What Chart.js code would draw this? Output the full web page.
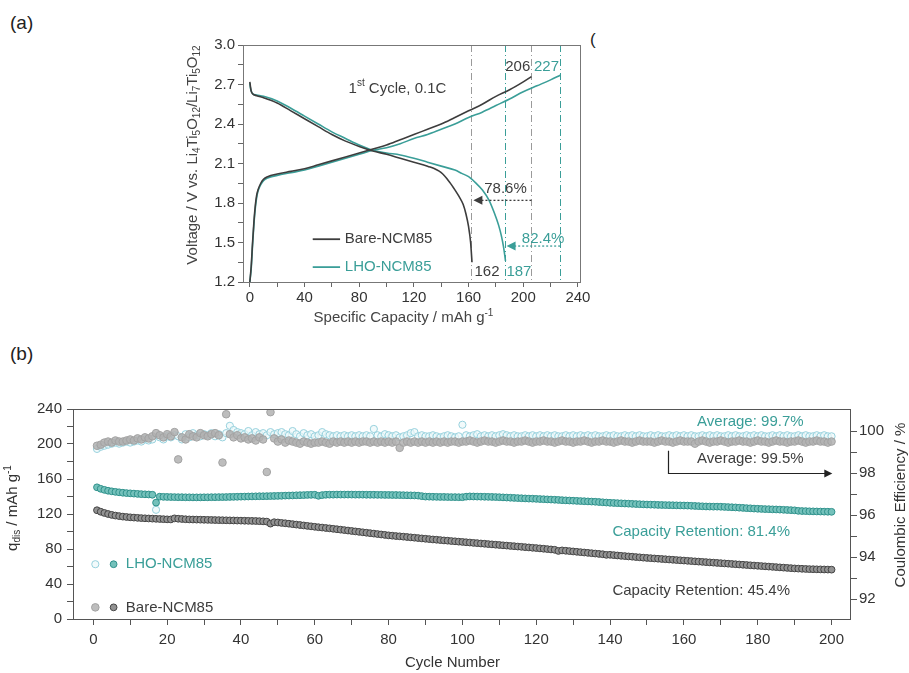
<!DOCTYPE html>
<html>
<head>
<meta charset="utf-8">
<script src="https://cdn.jsdelivr.net/npm/chart.js@4.4.1/dist/chart.umd.min.js"></script>
<style>
  body { margin: 0; background: #fff; width: 909px; height: 673px; position: relative; overflow: hidden;
         font-family: "Liberation Sans", Arial, sans-serif; }
  .plabel { position: absolute; font-size: 19px; color: #222; }
  canvas { position: absolute; }
</style>
</head>
<body>
<div class="plabel" style="left:10px;top:12px">(a)</div>
<div class="plabel" style="left:10px;top:343px">(b)</div>
<div class="plabel" style="left:590px;top:30px;font-size:17px">(</div>
<canvas id="chartA" width="460" height="310" style="left:160px;top:30px"></canvas>
<canvas id="chartB" width="909" height="278" style="left:0;top:395px"></canvas>
<script>
/**
 * 1st cycle voltage profiles (a) + cycling stability (b)
 */
const FONT = '"Liberation Sans", Arial, sans-serif';
const DARK = '#3d3d3d';
const TEAL = '#3a9e98';
const TEXT = '#333';
const AXIS = '#666';

// ---- (a) 1st cycle, 0.1C ----
const bareChargeCap = [0, 1, 2, 3, 4, 5, 6, 8, 10, 13, 20, 30, 40, 50, 60, 70, 80, 90, 100, 110, 120, 130, 140, 150, 160, 170, 180, 190, 200, 206];
const bareChargeV = [1.20, 1.32, 1.50, 1.66, 1.78, 1.86, 1.90, 1.95, 1.98, 2.00, 2.02, 2.04, 2.06, 2.09, 2.12, 2.15, 2.18, 2.21, 2.24, 2.28, 2.32, 2.36, 2.40, 2.45, 2.50, 2.55, 2.61, 2.66, 2.72, 2.76];
const lhoChargeCap = [0, 1, 2, 3, 4, 5, 6, 8, 10, 13, 20, 30, 40, 50, 60, 70, 80, 90, 100, 110, 120, 130, 140, 150, 160, 170, 180, 190, 200, 210, 220, 227];
const lhoChargeV = [1.20, 1.30, 1.48, 1.64, 1.76, 1.84, 1.89, 1.94, 1.97, 1.99, 2.01, 2.03, 2.05, 2.08, 2.11, 2.14, 2.17, 2.20, 2.22, 2.25, 2.29, 2.32, 2.36, 2.40, 2.45, 2.49, 2.54, 2.59, 2.645, 2.69, 2.735, 2.77];
const bareDischargeCap = [0, 0.5, 1, 2, 5, 10, 20, 30, 40, 50, 60, 70, 80, 90, 100, 110, 120, 130, 140, 146, 150, 153, 156, 158, 160, 161.5, 162.5];
const bareDischargeV = [2.72, 2.68, 2.65, 2.63, 2.615, 2.60, 2.56, 2.50, 2.44, 2.38, 2.32, 2.27, 2.23, 2.195, 2.17, 2.14, 2.11, 2.08, 2.03, 1.96, 1.90, 1.85, 1.79, 1.72, 1.62, 1.50, 1.35];
const lhoDischargeCap = [0, 0.5, 1, 2, 5, 10, 20, 30, 40, 50, 60, 70, 80, 90, 100, 110, 120, 130, 140, 150, 155, 160, 165, 170, 175, 179, 182, 184, 185.5, 186.5, 187];
const lhoDischargeV = [2.71, 2.67, 2.65, 2.63, 2.62, 2.61, 2.575, 2.52, 2.46, 2.40, 2.34, 2.29, 2.24, 2.20, 2.18, 2.165, 2.14, 2.11, 2.08, 2.05, 2.025, 2.0, 1.955, 1.90, 1.82, 1.72, 1.63, 1.55, 1.47, 1.40, 1.36];

const capMajorA = [0, 40, 80, 120, 160, 200, 240];
const capMinorA = [20, 60, 100, 140, 180, 220];
const voltMajorA = [1.2, 1.5, 1.8, 2.1, 2.4, 2.7, 3.0];
const voltMinorA = [1.35, 1.65, 1.95, 2.25, 2.55, 2.85];

const endCaps = [162, 187, 206, 227];          // dash-dot markers
const endCapColors = ['#9a9a9a', TEAL, '#9a9a9a', TEAL];

// ---- (b) cycling at higher rate ----
const cycles = Array.from({ length: 200 }, (_, i) => i + 1);

const lhoCapacity = [
  150.5, 148.8, 147.6, 146.6, 145.9, 145.3, 144.8, 144.3, 143.9, 143.6,
  143.3, 143.0, 142.7, 142.5, 142.3, 142.0, 133.0, 139.8, 139.6, 139.5,
  139.4, 139.3, 139.2, 139.2, 139.1, 139.1, 139.0, 139.0, 139.0, 139.1,
  139.1, 139.2, 139.2, 139.3, 139.3, 139.4, 139.5, 139.6, 139.7, 139.8,
  139.9, 140.0, 140.1, 140.2, 140.3, 140.3, 140.4, 140.5, 140.6, 140.7,
  140.8, 141.0, 141.1, 141.2, 141.4, 141.5, 141.6, 141.8, 141.9, 142.0,
  140.8, 141.6, 142.0, 142.1, 142.1, 142.2, 142.2, 142.2, 142.2, 142.2,
  142.1, 142.1, 142.1, 142.0, 142.0, 142.0, 141.9, 141.9, 141.8, 141.8,
  141.7, 141.7, 141.6, 141.5, 141.4, 141.3, 141.2, 141.0, 140.4, 139.9,
  139.8, 139.7, 139.6, 139.5, 139.5, 139.4, 139.3, 139.3, 139.2, 139.2,
  139.8, 140.1, 140.0, 139.9, 139.8, 139.7, 139.6, 139.5, 139.4, 139.2,
  139.0, 138.8, 138.6, 138.4, 138.2, 138.0, 137.8, 137.6, 137.5, 137.3,
  137.1, 136.9, 136.7, 136.5, 136.3, 136.1, 135.8, 135.6, 135.4, 135.2,
  135.0, 134.8, 134.6, 134.4, 134.2, 134.0, 133.7, 133.4, 133.1, 132.8,
  132.6, 132.4, 132.2, 132.0, 131.8, 131.6, 131.4, 131.2, 131.0, 130.8,
  130.7, 130.6, 130.4, 130.3, 130.2, 130.1, 130.0, 129.9, 129.8, 129.7,
  129.6, 129.4, 129.2, 129.0, 128.8, 128.6, 128.5, 128.4, 128.4, 128.3,
  128.1, 127.9, 127.7, 127.5, 127.2, 127.0, 126.7, 126.5, 126.2, 126.0,
  125.8, 125.6, 125.5, 125.3, 125.2, 125.0, 124.8, 124.6, 124.4, 124.2,
  123.6, 123.4, 123.3, 123.1, 123.0, 122.9, 122.8, 122.7, 122.6, 122.5
];

const bareCapacity = [
  124.3, 122.6, 121.2, 120.0, 119.0, 118.2, 117.6, 117.0, 116.6, 116.2,
  115.9, 115.6, 115.3, 115.1, 114.9, 114.7, 114.5, 114.3, 114.1, 113.9,
  113.8, 115.0, 114.6, 114.3, 114.0, 113.8, 113.7, 113.6, 113.5, 113.4,
  113.3, 113.2, 113.1, 113.0, 112.9, 112.8, 112.7, 112.6, 112.5, 112.4,
  112.3, 112.2, 112.1, 112.0, 111.8, 111.6, 111.3, 109.0, 110.6, 110.3,
  109.8, 109.4, 108.9, 108.4, 107.9, 107.4, 106.9, 106.4, 105.9, 105.4,
  104.9, 104.5, 104.0, 103.6, 103.1, 102.6, 102.1, 101.6, 101.1, 100.6,
  100.1, 99.6, 99.1, 98.6, 98.1, 97.6, 97.1, 96.6, 96.1, 95.6,
  95.2, 94.8, 94.5, 94.1, 93.7, 93.3, 92.9, 92.5, 92.1, 91.7,
  91.3, 90.9, 90.6, 90.2, 89.8, 89.5, 89.1, 88.8, 88.4, 88.1,
  87.7, 87.4, 87.0, 86.7, 86.3, 86.0, 85.6, 85.3, 84.9, 84.6,
  84.2, 83.9, 83.5, 83.2, 82.8, 82.5, 82.1, 81.8, 81.4, 81.1,
  80.7, 80.3, 79.9, 79.5, 79.1, 77.8, 78.4, 78.0, 77.6, 77.2,
  76.8, 76.4, 76.0, 75.6, 75.2, 74.8, 74.4, 74.0, 73.3, 73.4,
  73.0, 72.6, 72.2, 71.9, 71.5, 71.2, 70.8, 70.5, 70.1, 69.8,
  69.5, 69.2, 68.9, 68.6, 68.3, 68.0, 67.7, 67.4, 67.1, 66.8,
  66.5, 66.2, 65.9, 65.6, 65.3, 65.0, 64.7, 64.4, 64.1, 63.8,
  63.5, 63.2, 62.9, 62.6, 62.3, 62.0, 61.7, 61.4, 61.1, 60.8,
  60.5, 60.2, 59.9, 59.6, 59.3, 59.0, 58.7, 58.4, 58.1, 57.8,
  57.6, 57.4, 57.2, 57.0, 56.9, 56.8, 56.7, 56.6, 56.5, 56.4
];

const lhoCE = [
  99.15, 99.25, 99.3, 99.35, 99.4, 99.45, 99.4, 99.45, 99.5, 99.45,
  99.5, 99.55, 99.5, 99.6, 99.55, 99.6, 96.25, 99.7, 99.6, 99.75,
  99.7, 99.8, 99.75, 99.6, 99.85, 99.7, 99.9, 99.8, 99.75, 99.85,
  99.8, 99.9, 99.75, 99.85, 99.7, 99.9, 100.25, 100.05, 99.95, 99.9,
  99.85, 100.0, 99.8, 99.95, 99.85, 99.9, 99.8, 99.95, 99.85, 99.9,
  99.95, 99.85, 99.8, 100.0, 99.85, 99.75, 99.9, 99.8, 99.85, 99.75,
  99.8, 99.95, 99.85, 99.8, 99.75, 99.8, 99.75, 99.8, 99.75, 99.8,
  99.75, 99.8, 99.75, 99.8, 99.75, 100.1, 99.8, 99.75, 99.85, 99.8,
  99.75, 99.8, 99.7, 99.75, 99.8, 99.9, 99.95, 99.75, 99.8, 99.75,
  99.75, 99.8, 99.75, 99.7, 99.75, 99.8, 99.75, 99.7, 99.75, 100.3,
  99.8, 99.75, 99.8, 99.85, 99.75, 99.8, 99.75, 99.8, 99.75, 99.8,
  99.85, 99.8, 99.75, 99.8, 99.75, 99.75, 99.8, 99.75, 99.8, 99.75,
  99.8, 99.75, 99.8, 99.75, 99.8, 99.75, 99.75, 99.8, 99.75, 99.8,
  99.75, 99.8, 99.75, 99.8, 99.75, 99.8, 99.75, 99.75, 99.8, 99.75,
  99.8, 99.75, 99.75, 99.8, 99.75, 99.8, 99.75, 99.8, 99.75, 99.75,
  99.8, 99.75, 99.8, 99.75, 99.75, 99.8, 99.75, 99.8, 99.75, 99.8,
  99.75, 99.8, 99.75, 99.75, 99.8, 99.75, 99.8, 99.75, 99.8, 99.75,
  99.75, 99.8, 99.75, 99.8, 99.75, 99.75, 99.8, 99.75, 99.8, 99.75,
  99.8, 99.75, 99.75, 99.8, 99.75, 99.8, 99.75, 99.8, 99.75, 99.75,
  99.8, 99.75, 99.8, 99.75, 99.75, 99.8, 99.75, 99.8, 99.75, 99.75
];

const bareCE = [
  99.3, 99.35, 99.45, 99.5, 99.45, 99.55, 99.5, 99.5, 99.55, 99.6,
  99.55, 99.65, 99.6, 99.7, 99.65, 99.75, 99.9, 99.8, 99.7, 99.85,
  99.75, 99.95, 98.65, 99.7, 99.6, 99.85, 99.75, 99.7, 99.9, 99.8,
  99.75, 99.85, 99.9, 99.8, 98.5, 100.8, 99.85, 99.7, 99.8, 99.65,
  99.7, 99.6, 99.65, 99.55, 99.7, 99.6, 98.05, 100.9, 99.65, 99.5,
  99.6, 99.45, 99.55, 99.5, 99.45, 99.4, 99.5, 99.45, 99.4, 99.45,
  99.45, 99.5, 99.45, 99.4, 99.5, 99.45, 99.5, 99.45, 99.5, 99.45,
  99.5, 99.45, 99.5, 99.5, 99.45, 99.5, 99.45, 99.5, 99.45, 99.5,
  99.45, 99.5, 99.2, 99.45, 99.5, 99.45, 99.5, 99.45, 99.5, 99.45,
  99.5, 99.45, 99.5, 99.45, 99.5, 99.45, 99.5, 99.5, 99.45, 99.5,
  99.5, 99.55, 99.5, 99.45, 99.5, 99.55, 99.5, 99.5, 99.45, 99.5,
  99.55, 99.5, 99.5, 99.45, 99.5, 99.5, 99.55, 99.5, 99.45, 99.5,
  99.5, 99.55, 99.5, 99.5, 99.45, 99.5, 99.55, 99.5, 99.5, 99.45,
  99.5, 99.5, 99.55, 99.5, 99.45, 99.5, 99.5, 99.55, 99.5, 99.5,
  99.45, 99.5, 99.55, 99.5, 99.5, 99.45, 99.5, 99.55, 99.5, 99.5,
  99.5, 99.45, 99.5, 99.55, 99.5, 99.5, 99.45, 99.5, 99.55, 99.5,
  99.5, 99.5, 99.4, 99.5, 99.55, 99.5, 99.45, 99.5, 99.5, 99.55,
  99.5, 99.45, 99.5, 99.5, 99.55, 99.5, 99.5, 99.45, 99.5, 99.55,
  99.5, 99.5, 99.45, 99.5, 99.55, 99.5, 99.5, 99.45, 99.5, 99.5,
  99.55, 99.5, 99.45, 99.5, 99.5, 99.55, 99.5, 99.5, 99.45, 99.5
];

const cycleMajorB = [0, 20, 40, 60, 80, 100, 120, 140, 160, 180, 200];
const cycleMinorB = [10, 30, 50, 70, 90, 110, 130, 150, 170, 190];
const capMajorB = [0, 40, 80, 120, 160, 200, 240];
const capMinorB = [20, 60, 100, 140, 180, 220];
const ceMajorB = [92, 94, 96, 98, 100];
const ceMinorB = [93, 95, 97, 99];

// ---- helpers ----
const toXY = (xs, ys) => xs.map((x, i) => ({ x, y: ys[i] }));
const isIn = (list, v) => list.some(m => Math.abs(m - v) < 1e-6);
const tickSet = (major, minor) => scale => {
  scale.ticks = major.concat(minor).sort((a, b) => a - b).map(value => ({ value }));
};

// text with sub/superscript parts: [[text, 'sub'|'sup'|undefined], ...]
function drawRich(ctx, parts, x, y, size, color, rotate, align) {
  const small = Math.round(size * 0.66);
  ctx.save();
  ctx.translate(x, y);
  if (rotate) ctx.rotate(rotate);
  ctx.fillStyle = color;
  ctx.textBaseline = 'middle';
  ctx.textAlign = 'left';
  let total = 0;
  parts.forEach(p => {
    ctx.font = `${p[1] ? small : size}px ${FONT}`;
    total += ctx.measureText(p[0]).width;
  });
  let cx = align === 'left' ? 0 : -total / 2;
  parts.forEach(p => {
    ctx.font = `${p[1] ? small : size}px ${FONT}`;
    const dy = p[1] === 'sub' ? size * 0.3 : p[1] === 'sup' ? -size * 0.33 : 0;
    ctx.fillText(p[0], cx, dy);
    cx += ctx.measureText(p[0]).width;
  });
  ctx.restore();
}

function arrowHead(ctx, x, y, dir, len, half) {
  ctx.beginPath();
  ctx.moveTo(x, y);
  ctx.lineTo(x - dir * len, y - half);
  ctx.lineTo(x - dir * len, y + half);
  ctx.closePath();
  ctx.fill();
}

function frame(chart, color) {
  const { ctx, chartArea: a } = chart;
  ctx.save();
  ctx.strokeStyle = color;
  ctx.lineWidth = 1;
  ctx.strokeRect(a.left + 0.5, a.top + 0.5, a.right - a.left, a.bottom - a.top);
  ctx.restore();
}

// ---- chart (a) ----
const panelAExtras = {
  id: 'panelAExtras',
  beforeDatasetsDraw(chart) {
    const { ctx, chartArea: a, scales: { x } } = chart;
    ctx.save();
    ctx.lineWidth = 1;
    ctx.setLineDash([7, 3, 1, 3]);
    endCaps.forEach((c, i) => {
      const px = Math.round(x.getPixelForValue(c)) + 0.5;
      ctx.strokeStyle = endCapColors[i];
      ctx.beginPath();
      ctx.moveTo(px, a.top);
      ctx.lineTo(px, a.bottom);
      ctx.stroke();
    });
    ctx.restore();
  },
  afterDatasetsDraw(chart) {
    const { ctx, scales: { x, y } } = chart;
    const X = v => x.getPixelForValue(v);
    const Y = v => y.getPixelForValue(v);

    // retention arrows
    const arrows = [
      { from: 206, to: 163.5, v: 1.82, text: '78.6%', tx: 187, tv: 1.905, color: DARK },
      { from: 227, to: 187.8, v: 1.473, text: '82.4%', tx: 214.5, tv: 1.53, color: TEAL }
    ];
    arrows.forEach(ar => {
      ctx.save();
      ctx.strokeStyle = ar.color;
      ctx.fillStyle = ar.color;
      ctx.lineWidth = 1.3;
      ctx.setLineDash([2, 2]);
      ctx.beginPath();
      ctx.moveTo(X(ar.from), Y(ar.v));
      ctx.lineTo(X(ar.to) + 8, Y(ar.v));
      ctx.stroke();
      ctx.setLineDash([]);
      arrowHead(ctx, X(ar.to), Y(ar.v), -1, 9, 4.5);
      ctx.restore();
      drawRich(ctx, [[ar.text]], X(ar.tx), Y(ar.tv), 15, ar.color);
    });

    // capacity labels
    drawRich(ctx, [['206']], X(196), Y(2.835), 15, DARK);
    drawRich(ctx, [['227']], X(217), Y(2.835), 15, TEAL);
    drawRich(ctx, [['162']], X(173.5), Y(1.275), 15, DARK);
    drawRich(ctx, [['187']], X(196.8), Y(1.275), 15, TEAL);

    drawRich(ctx, [['1'], ['st', 'sup'], [' Cycle, 0.1C']], X(108), Y(2.67), 15, DARK);

    // legend
    const legendA = [
      { label: 'Bare-NCM85', v: 1.525, color: DARK },
      { label: 'LHO-NCM85', v: 1.313, color: TEAL }
    ];
    legendA.forEach(l => {
      ctx.save();
      ctx.strokeStyle = l.color;
      ctx.lineWidth = 1.8;
      ctx.beginPath();
      ctx.moveTo(X(46), Y(l.v));
      ctx.lineTo(X(66), Y(l.v));
      ctx.stroke();
      ctx.restore();
      drawRich(ctx, [[l.label]], X(69.5), Y(l.v), 15, l.color, 0, 'left');
    });
  },
  afterDraw(chart) {
    frame(chart, '#777');
    const { ctx, chartArea: a } = chart;
    drawRich(ctx, [['Voltage / V vs. Li'], ['4', 'sub'], ['Ti'], ['5', 'sub'], ['O'], ['12', 'sub'],
      ['/Li'], ['7', 'sub'], ['Ti'], ['5', 'sub'], ['O'], ['12', 'sub']],
      33, 125, 15, '#444', -Math.PI / 2);
    drawRich(ctx, [['Specific Capacity / mAh g'], ['-1', 'sup']], (a.left + a.right) / 2 - 8, 288, 15, '#444');
  }
};

const lineDs = (label, xs, ys, color) => ({
  label, data: toXY(xs, ys), showLine: true, borderColor: color, borderWidth: 1.6,
  pointRadius: 0, cubicInterpolationMode: 'monotone', fill: false
});

const tickFontA = { family: FONT, size: 15 };

new Chart(document.getElementById('chartA'), {
  type: 'scatter',
  data: {
    datasets: [
      lineDs('Bare-NCM85 charge', bareChargeCap, bareChargeV, DARK),
      lineDs('Bare-NCM85 discharge', bareDischargeCap, bareDischargeV, DARK),
      lineDs('LHO-NCM85 charge', lhoChargeCap, lhoChargeV, TEAL),
      lineDs('LHO-NCM85 discharge', lhoDischargeCap, lhoDischargeV, TEAL)
    ]
  },
  options: {
    responsive: false,
    animation: false,
    layout: { padding: { top: 15, right: 40, left: 0, bottom: 0 } },
    plugins: { legend: { display: false }, tooltip: { enabled: false } },
    scales: {
      x: {
        type: 'linear', min: -5, max: 241.5,
        afterBuildTicks: tickSet(capMajorA, capMinorA),
        afterFit: s => { s.height = 58; },
        ticks: {
          autoSkip: false, maxRotation: 0, padding: 2, color: TEXT, font: tickFontA,
          callback: v => isIn(capMajorA, v) ? String(v) : ''
        },
        grid: { drawOnChartArea: false, tickLength: 5, color: AXIS },
        border: { color: '#777' }
      },
      y: {
        min: 1.2, max: 3.0,
        afterBuildTicks: tickSet(voltMajorA, voltMinorA),
        afterFit: s => { s.width = 83; },
        ticks: {
          autoSkip: false, padding: 3, color: TEXT, font: tickFontA,
          callback: v => isIn(voltMajorA, v) ? v.toFixed(1) : ''
        },
        grid: { drawOnChartArea: false, tickLength: 5, color: AXIS },
        border: { color: '#777' }
      }
    }
  },
  plugins: [panelAExtras]
});

// ---- chart (b) ----
const cePoint = {
  lho: { r: 3.6, fill: 'rgba(236,248,250,0.7)', stroke: '#97d1dd' },
  bare: { r: 3.8, fill: 'rgba(178,178,178,0.85)', stroke: '#a2a2a2' }
};
const capPoint = {
  lho: { r: 3.4, fill: '#74c1bb', stroke: '#2f918b' },
  bare: { r: 3.4, fill: '#929292', stroke: '#444' }
};

const panelBExtras = {
  id: 'panelBExtras',
  afterDatasetsDraw(chart) {
    const { ctx, scales: { x, yCap, yCE } } = chart;
    const X = v => x.getPixelForValue(v);

    drawRich(ctx, [['Average: 99.7%']], X(178), yCE.getPixelForValue(100.44), 15, TEAL);
    drawRich(ctx, [['Average: 99.5%']], X(178), yCE.getPixelForValue(98.67), 15, DARK);
    drawRich(ctx, [['Capacity Retention: 81.4%']], X(164.7), yCap.getPixelForValue(99.3), 15, TEAL);
    drawRich(ctx, [['Capacity Retention: 45.4%']], X(164.7), yCap.getPixelForValue(31.8), 15, DARK);

    // arrow towards the CE axis
    const ax = Math.round(X(155.7)) + 0.5;
    const ay0 = yCE.getPixelForValue(99.06);
    const ay1 = Math.round(yCE.getPixelForValue(97.99)) + 0.5;
    const ax1 = X(200.2);
    ctx.save();
    ctx.strokeStyle = '#222';
    ctx.fillStyle = '#222';
    ctx.lineWidth = 1.2;
    ctx.beginPath();
    ctx.moveTo(ax, ay0);
    ctx.lineTo(ax, ay1);
    ctx.lineTo(ax1 - 6, ay1);
    ctx.stroke();
    arrowHead(ctx, ax1, ay1, 1, 8, 4);
    ctx.restore();

    // legend
    const legendB = [
      { label: 'LHO-NCM85', v: 62.6, ce: cePoint.lho, cap: capPoint.lho, color: TEAL },
      { label: 'Bare-NCM85', v: 13.3, ce: cePoint.bare, cap: capPoint.bare, color: DARK }
    ];
    legendB.forEach(l => {
      const py = yCap.getPixelForValue(l.v);
      [[0.55, l.ce], [5.5, l.cap]].forEach(([cx, st]) => {
        ctx.save();
        ctx.beginPath();
        ctx.arc(X(cx), py, st.r, 0, Math.PI * 2);
        ctx.fillStyle = st.fill;
        ctx.fill();
        ctx.strokeStyle = st.stroke;
        ctx.lineWidth = 1;
        ctx.stroke();
        ctx.restore();
      });
      drawRich(ctx, [[l.label]], X(8.8), py, 15, l.color, 0, 'left');
    });
  },
  afterDraw(chart) {
    frame(chart, '#555');
    const { ctx, chartArea: a } = chart;
    drawRich(ctx, [['Cycle Number']], (a.left + a.right) / 2 - 9, 268, 15, '#333');
    drawRich(ctx, [['q'], ['dis', 'sub'], [' / mAh g'], ['-1', 'sup']], 13, 113, 15, '#333', -Math.PI / 2);
    drawRich(ctx, [['Coulombic Efficiency / %']], 901, 110, 15, '#333', -Math.PI / 2);
  }
};

const pointDs = (label, ys, axis, st, order) => ({
  label, data: toXY(cycles, ys), yAxisID: axis, showLine: false, order,
  pointRadius: st.r, pointBackgroundColor: st.fill, pointBorderColor: st.stroke, pointBorderWidth: 1
});

const tickFontB = { family: FONT, size: 15 };

new Chart(document.getElementById('chartB'), {
  type: 'scatter',
  data: {
    datasets: [
      pointDs('LHO-NCM85 capacity', lhoCapacity, 'yCap', capPoint.lho, 1),
      pointDs('Bare-NCM85 capacity', bareCapacity, 'yCap', capPoint.bare, 2),
      pointDs('Bare-NCM85 CE', bareCE, 'yCE', cePoint.bare, 3),
      pointDs('LHO-NCM85 CE', lhoCE, 'yCE', cePoint.lho, 4)
    ]
  },
  options: {
    responsive: false,
    animation: false,
    layout: { padding: { top: 13, right: 0, left: 0, bottom: 0 } },
    plugins: { legend: { display: false }, tooltip: { enabled: false } },
    scales: {
      x: {
        type: 'linear', min: -5.5, max: 205,
        afterBuildTicks: tickSet(cycleMajorB, cycleMinorB),
        afterFit: s => { s.height = 54; },
        ticks: {
          autoSkip: false, maxRotation: 0, padding: 6, color: TEXT, font: tickFontB,
          callback: v => isIn(cycleMajorB, v) ? String(v) : ''
        },
        grid: { drawOnChartArea: false, tickLength: 6, color: '#555' },
        border: { color: '#555' }
      },
      yCap: {
        position: 'left', min: 0, max: 240,
        afterBuildTicks: tickSet(capMajorB, capMinorB),
        afterFit: s => { s.width = 73; },
        ticks: {
          autoSkip: false, padding: 5, color: TEXT, font: tickFontB,
          callback: v => isIn(capMajorB, v) ? String(v) : ''
        },
        grid: { drawOnChartArea: false, tickLength: 6, color: '#555' },
        border: { color: '#555' }
      },
      yCE: {
        position: 'right', min: 91.05, max: 101.05,
        afterBuildTicks: tickSet(ceMajorB, ceMinorB),
        afterFit: s => { s.width = 59; },
        ticks: {
          autoSkip: false, padding: 2, color: TEXT, font: tickFontB,
          callback: v => isIn(ceMajorB, v) ? String(v) : ''
        },
        grid: { drawOnChartArea: false, tickLength: 7, color: '#555' },
        border: { color: '#555' }
      }
    }
  },
  plugins: [panelBExtras]
});
</script>
</body>
</html>
